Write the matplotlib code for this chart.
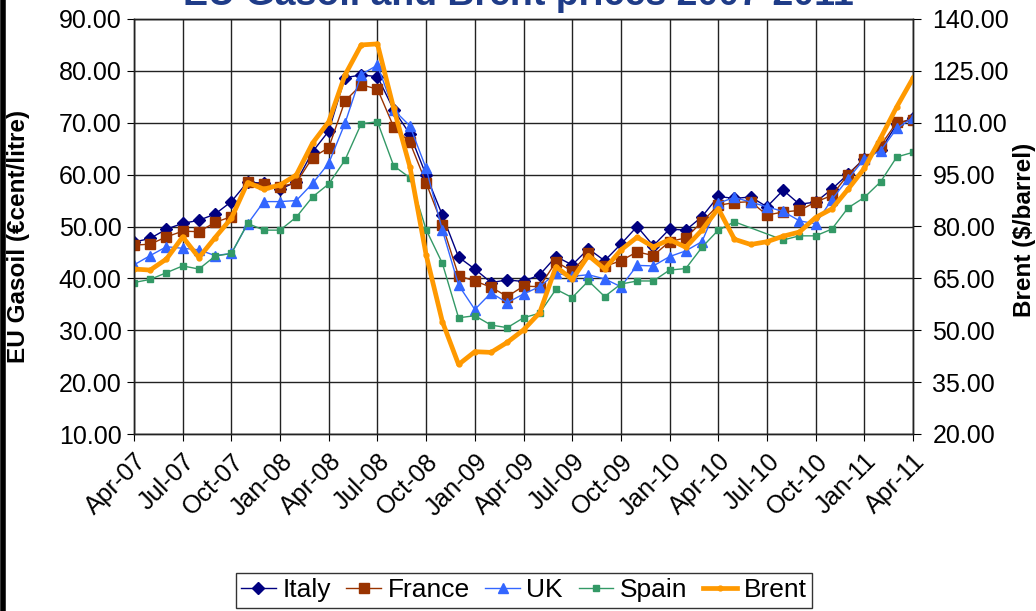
import numpy as np
import matplotlib.pyplot as plt
from matplotlib.lines import Line2D

# monthly series Apr-07 .. Apr-11 (49 months)
months = np.arange(49)
tick_labels = ["Apr-07", "Jul-07", "Oct-07", "Jan-08", "Apr-08", "Jul-08", "Oct-08",
               "Jan-09", "Apr-09", "Jul-09", "Oct-09", "Jan-10", "Apr-10", "Jul-10",
               "Oct-10", "Jan-11", "Apr-11"]

italy = [47.0, 47.7, 49.5, 50.6, 51.2, 52.4, 54.8, 58.6, 58.3, 57.2, 58.6, 64.4, 68.4,
         78.7, 79.2, 78.9, 72.5, 67.8, 59.9, 52.2, 44.1, 41.8, 39.2, 39.7, 39.4, 40.7,
         44.2, 42.6, 45.7, 43.4, 46.6, 50.0, 46.3, 49.5, 49.3, 51.9, 55.8, 55.4, 55.7,
         53.8, 57.0, 54.3, 54.7, 57.2, 60.1, 63.1, 64.8, 69.7, 70.9]
france = [46.4, 46.6, 48.0, 49.1, 49.0, 50.8, 51.9, 58.5, 58.1, 57.7, 58.4, 63.3, 65.2,
          74.2, 77.3, 76.5, 69.2, 66.2, 58.4, 50.3, 40.5, 39.5, 38.3, 36.5, 38.5, 38.4,
          43.2, 41.4, 44.8, 42.3, 43.4, 45.1, 44.4, 47.1, 47.8, 50.9, 54.1, 54.6, 54.8,
          52.2, 52.8, 53.1, 54.7, 56.0, 60.0, 63.0, 65.6, 70.1, 70.5]
uk = [42.6, 44.4, 46.1, 45.8, 45.5, 44.4, 44.8, 50.5, 54.8, 54.8, 55.0, 58.3, 62.2,
      69.9, 79.3, 81.1, 72.5, 69.4, 61.2, 49.3, 38.7, 34.0, 37.2, 35.3, 37.0, 38.4,
      41.0, 40.4, 40.7, 39.9, 38.4, 42.5, 42.4, 44.2, 45.3, 47.1, 54.5, 55.6, 54.7,
      53.8, 52.9, 51.1, 50.5, 55.2, 59.2, 63.0, 64.6, 68.9, 71.0]
spain = [39.2, 39.8, 41.1, 42.4, 41.8, 44.3, 44.8, 50.6, 49.3, 49.3, 51.8, 55.7, 58.2,
         62.8, 69.8, 70.2, 61.7, 59.4, 49.4, 42.9, 32.4, 32.8, 31.0, 30.5, 32.4, 33.3,
         37.9, 36.3, 39.5, 36.5, 38.9, 39.5, 39.5, 41.6, 41.9, 46.0, 49.3, 50.9, np.nan,
         np.nan, 47.4, 48.2, 48.2, 49.5, 53.6, 55.6, 58.6, 63.4, 64.3]
brent = [67.7, 67.4, 70.6, 77.0, 71.0, 76.8, 82.4, 92.7, 90.8, 92.0, 94.9, 104.1, 110.3,
         123.8, 132.5, 132.8, 114.2, 97.3, 71.8, 52.5, 40.1, 43.8, 43.6, 46.5, 50.1, 55.1,
         68.4, 64.7, 71.6, 67.7, 73.2, 76.9, 74.1, 76.2, 74.0, 79.0, 85.2, 76.3, 74.8,
         75.6, 77.2, 78.4, 82.6, 85.1, 90.8, 96.8, 105.5, 114.6, 122.9]

plt.rcParams["font.family"] = ["Liberation Sans", "DejaVu Sans"]

fig = plt.figure(figsize=(10.36, 6.11), dpi=100)
ax = fig.add_axes([134 / 1036, 1 - 434 / 611, (913 - 134) / 1036, 415 / 611])
ax2 = ax.twinx()


def draw(axis, y, **kw):
    y = np.asarray(y, dtype=float)
    ok = ~np.isnan(y)
    return axis.plot(months[ok], y[ok], **kw)[0]


h_it = draw(ax, italy, color="#000080", lw=1.0, marker="D", ms=6, label="Italy")
h_fr = draw(ax, france, color="#993300", lw=1.0, marker="s", ms=6.5, label="France")
h_uk = draw(ax, uk, color="#3366FF", lw=1.0, marker="^", ms=7.5, label="UK")
h_sp = draw(ax, spain, color="#339966", lw=1.0, marker="s", ms=4.5, label="Spain")
h_br = draw(ax2, brent, color="#FF9900", lw=3.4, marker="o", ms=3.5, label="Brent")

ax.set_xlim(0, 48)
ax.set_ylim(10, 90)
ax2.set_ylim(20, 140)
ax.set_yticks(np.arange(10, 91, 10))
ax2.set_yticks(np.arange(20, 141, 15))
ax.set_yticklabels([f"{v:.2f}" for v in np.arange(10, 91, 10)])
ax2.set_yticklabels([f"{v:.2f}" for v in np.arange(20, 141, 15)])
ax.set_xticks(np.arange(0, 49, 3))
ax.set_xticklabels(tick_labels, rotation=45, ha="right", rotation_mode="anchor")

ax.grid(True, color="#222222", lw=1.0)
ax.set_axisbelow(True)
for a in (ax, ax2):
    for s in a.spines.values():
        s.set_color("#222222")
        s.set_linewidth(1.0)
ax.tick_params(axis="y", labelsize=18, length=5, pad=4, direction="out")
ax.tick_params(axis="x", labelsize=18, length=5, pad=6, direction="out")
ax2.tick_params(axis="y", labelsize=18, length=6, pad=8, direction="out")

fig.text(19 / 1036, 1 - 236 / 611, "EU Gasoil (\u20accent/litre)", rotation=90,
         ha="center", va="center", fontsize=17.5, fontweight="bold")
fig.text(1025 / 1036, 1 - 230 / 611, "Brent ($/barrel)", rotation=90,
         ha="center", va="center", fontsize=17.5, fontweight="bold")
fig.text(0.5, 1 - 5 / 611, "EU Gasoil and Brent prices 2007-2011", ha="center",
         va="baseline", fontsize=27, fontweight="bold", color="#1F3C88")

leg = fig.legend(handles=[h_it, h_fr, h_uk, h_sp, h_br], loc="upper center",
                 bbox_to_anchor=(524 / 1036, 1 - 573 / 611), ncol=5, fontsize=19,
                 frameon=True, fancybox=False, edgecolor="black", handlelength=1.3,
                 handletextpad=0.25, columnspacing=0.6, borderpad=0.2,
                 borderaxespad=0)
leg.get_frame().set_linewidth(1.0)

# black frame edge on the left of the picture
fig.add_artist(Line2D([3 / 1036, 3 / 1036], [0, 1], color="black", lw=4,
                      transform=fig.transFigure))

fig.savefig("out.png", dpi=100)
